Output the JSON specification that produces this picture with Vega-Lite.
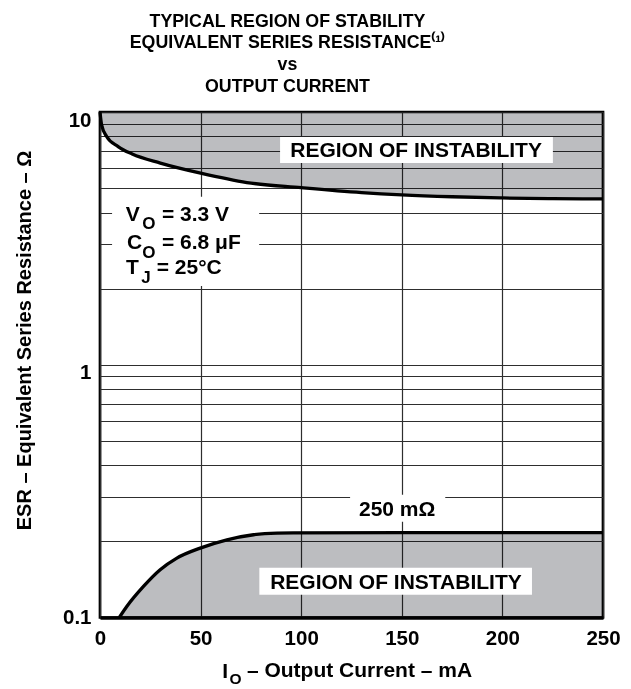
{
  "$schema": "https://vega.github.io/schema/vega-lite/v6.json",
  "width": 503,
  "height": 505.5,
  "autosize": "none",
  "padding": {"left": 100, "top": 112, "right": 28, "bottom": 71.5},
  "background": "white",
  "title": {
    "text": ["TYPICAL REGION OF STABILITY", "EQUIVALENT SERIES RESISTANCE⁽¹⁾", "vs", "OUTPUT CURRENT"],
    "anchor": "middle",
    "frame": "group",
    "dx": -64,
    "offset": 10,
    "font": "Liberation Sans",
    "fontWeight": "bold",
    "fontSize": 17.8,
    "lineHeight": 21.6,
    "color": "black"
  },
  "config": {
    "view": {"stroke": "black", "strokeWidth": 2.7},
    "font": "Liberation Sans"
  },
  "datasets": {
    "upper": [
      {"I": 0, "ESR": 10}, {"I": 0.8, "ESR": 8.9}, {"I": 3.3, "ESR": 8.0}, {"I": 9, "ESR": 7.3},
      {"I": 16, "ESR": 6.82}, {"I": 30, "ESR": 6.28}, {"I": 50, "ESR": 5.73}, {"I": 73, "ESR": 5.26},
      {"I": 100, "ESR": 5.02}, {"I": 130, "ESR": 4.8}, {"I": 150, "ESR": 4.7}, {"I": 175, "ESR": 4.62},
      {"I": 200, "ESR": 4.57}, {"I": 225, "ESR": 4.54}, {"I": 250, "ESR": 4.53}
    ],
    "lower": [
      {"I": 9.6, "ESR": 0.1}, {"I": 13.3, "ESR": 0.1105}, {"I": 21.6, "ESR": 0.1327}, {"I": 29.9, "ESR": 0.1545},
      {"I": 38.2, "ESR": 0.1718}, {"I": 49.8, "ESR": 0.1882}, {"I": 63.1, "ESR": 0.203}, {"I": 76.3, "ESR": 0.2125},
      {"I": 88, "ESR": 0.2158}, {"I": 96, "ESR": 0.2163}, {"I": 150, "ESR": 0.2165}, {"I": 250, "ESR": 0.2165}
    ],
    "boxes": [
      {"I": 89.5, "I2": 225.1, "ESR": 7.96, "ESR2": 6.28},
      {"I": 79.2, "I2": 214.7, "ESR": 0.1573, "ESR2": 0.123},
      {"I": 124.3, "I2": 171.6, "ESR": 0.3059, "ESR2": 0.2392},
      {"I": 6.0, "I2": 79.1, "ESR": 4.62, "ESR2": 2.05}
    ],
    "labels": [
      {"kind": "region", "I": 157.1, "ESR": 6.64, "t": "REGION OF INSTABILITY"},
      {"kind": "region", "I": 147.1, "ESR": 0.13, "t": "REGION OF INSTABILITY"},
      {"kind": "region", "I": 147.7, "ESR": 0.2515, "t": "250 mΩ"},
      {"kind": "param", "I": 12.8, "ESR": 3.707, "t": "V"},
      {"kind": "param", "I": 30.8, "ESR": 3.707, "t": "= 3.3 V"},
      {"kind": "param", "I": 13.4, "ESR": 2.86, "t": "C"},
      {"kind": "param", "I": 30.8, "ESR": 2.86, "t": "= 6.8 μF"},
      {"kind": "param", "I": 12.9, "ESR": 2.277, "t": "T"},
      {"kind": "param", "I": 28.2, "ESR": 2.277, "t": "= 25°C"},
      {"kind": "sub", "I": 21.0, "ESR": 3.707, "t": "O"},
      {"kind": "sub", "I": 21.0, "ESR": 2.86, "t": "O"},
      {"kind": "sub", "I": 20.5, "ESR": 2.277, "t": "J"},
      {"kind": "axmain", "I": 60.7, "ESR": 0.1, "t": "I"},
      {"kind": "axsub", "I": 67.3, "ESR": 0.1, "t": "O"}
    ]
  },
  "encoding": {
    "x": {
      "field": "I",
      "type": "quantitative",
      "scale": {"domain": [0, 250], "nice": false, "zero": false},
      "axis": {
        "values": [0, 50, 100, 150, 200, 250],
        "format": "d",
        "labelFont": "Liberation Sans",
        "labelFontWeight": "bold",
        "labelFontSize": 20.5,
        "labelColor": "black",
        "labelPadding": 11,
        "labelFlush": false,
        "ticks": false,
        "tickSize": 0,
        "domain": true,
        "domainColor": "black",
        "domainWidth": 3.5,
        "grid": true,
        "gridColor": "#2e2e2e",
        "gridWidth": 1.2,
        "title": "– Output Current – mA",
        "titleFont": "Liberation Sans",
        "titleFontWeight": "bold",
        "titleFontSize": 21,
        "titleColor": "black",
        "titlePadding": 10,
        "titleX": 259,
        "zindex": 0
      }
    },
    "y": {
      "field": "ESR",
      "type": "quantitative",
      "scale": {"type": "log", "domain": [0.1, 10], "nice": false},
      "axis": {
        "values": [0.1, 0.2, 0.3, 0.4, 0.5, 0.6, 0.7, 0.8, 0.9, 1, 2, 3, 4, 5, 6, 7, 8, 9, 10],
        "format": "~g",
        "labelExpr": "datum.value == 0.1 || datum.value == 1 || datum.value == 10 ? datum.label : ''",
        "labelOffset": {"condition": {"test": "datum.value >= 1", "value": 8}, "value": 0},
        "labelFont": "Liberation Sans",
        "labelFontWeight": "bold",
        "labelFontSize": 20.5,
        "labelColor": "black",
        "labelPadding": 9,
        "ticks": false,
        "tickSize": 0,
        "domain": false,
        "grid": true,
        "gridColor": "#2e2e2e",
        "gridWidth": 1.2,
        "title": "ESR – Equivalent Series Resistance – Ω",
        "titleFont": "Liberation Sans",
        "titleFontWeight": "bold",
        "titleFontSize": 20,
        "titleColor": "black",
        "titlePadding": 28,
        "titleY": 228,
        "zindex": 0
      }
    }
  },
  "layer": [
    {
      "data": {"name": "upper"},
      "mark": {"type": "area", "color": "#bcbdc0", "blend": "multiply", "interpolate": "monotone"},
      "encoding": {"y2": {"datum": 10}}
    },
    {
      "data": {"name": "lower"},
      "mark": {"type": "area", "color": "#bcbdc0", "blend": "multiply", "interpolate": "monotone"},
      "encoding": {"y2": {"datum": 0.1}}
    },
    {
      "data": {"name": "upper"},
      "mark": {"type": "line", "color": "black", "strokeWidth": 3.3, "interpolate": "monotone"},
      "encoding": {}
    },
    {
      "data": {"name": "lower"},
      "mark": {"type": "line", "color": "black", "strokeWidth": 3.3, "interpolate": "monotone"},
      "encoding": {}
    },
    {
      "data": {"name": "boxes"},
      "mark": {"type": "rect", "color": "white"},
      "encoding": {"x2": {"field": "I2"}, "y2": {"field": "ESR2"}}
    },
    {
      "data": {"name": "labels"},
      "transform": [{"filter": {"field": "kind", "equal": "region"}}],
      "mark": {"type": "text", "font": "Liberation Sans", "fontWeight": "bold", "fontSize": 21, "align": "center", "baseline": "alphabetic", "color": "black"},
      "encoding": {"text": {"field": "t"}}
    },
    {
      "data": {"name": "labels"},
      "transform": [{"filter": {"field": "kind", "equal": "param"}}],
      "mark": {"type": "text", "font": "Liberation Sans", "fontWeight": "bold", "fontSize": 21, "align": "left", "baseline": "alphabetic", "color": "black"},
      "encoding": {"text": {"field": "t"}}
    },
    {
      "data": {"name": "labels"},
      "transform": [{"filter": {"field": "kind", "equal": "sub"}}],
      "mark": {"type": "text", "font": "Liberation Sans", "fontWeight": "bold", "fontSize": 17, "align": "left", "baseline": "alphabetic", "dy": 8.5, "color": "black"},
      "encoding": {"text": {"field": "t"}}
    },
    {
      "data": {"name": "labels"},
      "transform": [{"filter": {"field": "kind", "equal": "axmain"}}],
      "mark": {"type": "text", "font": "Liberation Sans", "fontWeight": "bold", "fontSize": 21, "align": "left", "baseline": "alphabetic", "dy": 60, "color": "black"},
      "encoding": {"text": {"field": "t"}}
    },
    {
      "data": {"name": "labels"},
      "transform": [{"filter": {"field": "kind", "equal": "axsub"}}],
      "mark": {"type": "text", "font": "Liberation Sans", "fontWeight": "bold", "fontSize": 15.5, "align": "center", "baseline": "alphabetic", "dy": 66, "color": "black"},
      "encoding": {"text": {"field": "t"}}
    }
  ]
}
